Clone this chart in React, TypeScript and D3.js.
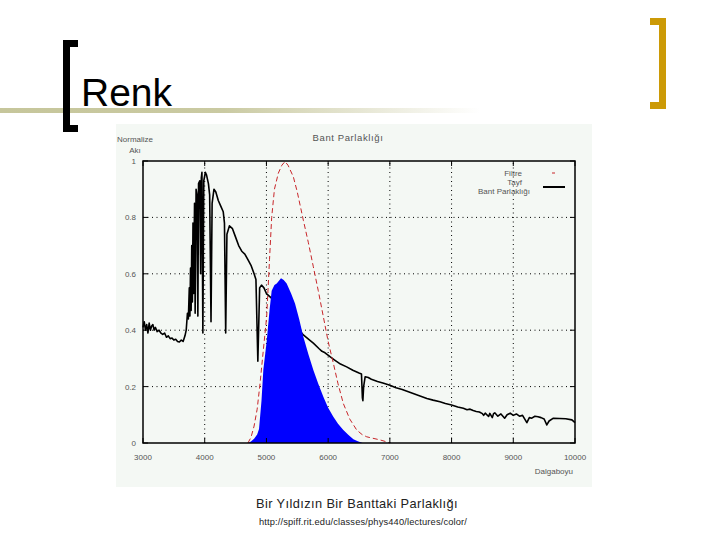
import React from "react";
import * as d3 from "d3";

// Wavelength (Å) and normalized flux for the spectrum (Tayf)
const spectrumWave = [
  3000, 3020, 3040, 3060, 3080, 3100, 3120, 3140, 3160, 3180, 3200, 3230, 3260, 3290, 3320, 3350, 3380, 3410, 3440, 3470,
  3500, 3530, 3560, 3590, 3620, 3650, 3680, 3700, 3720, 3735, 3750, 3760, 3770, 3780, 3790, 3800, 3810, 3820, 3835, 3845,
  3860, 3875, 3889, 3900, 3920, 3934, 3945, 3955, 3970, 3985, 4010, 4030, 4060, 4080, 4102, 4120, 4150, 4180, 4220, 4260,
  4300, 4320, 4340, 4360, 4400, 4450, 4500, 4550, 4600, 4650, 4700, 4750, 4800, 4830, 4861, 4890, 4920, 4960, 5000, 5050,
  5100, 5167, 5200, 5300, 5400, 5500, 5598, 5700, 5760, 5850, 5900, 5950, 6030, 6100, 6200, 6300, 6400, 6500, 6540, 6555,
  6563, 6575, 6600, 6650, 6700, 6800, 6900, 7000, 7100, 7200, 7300, 7400, 7500, 7600, 7700, 7812, 7900, 8000, 8100, 8191,
  8250, 8300, 8350, 8400, 8450, 8500, 8520, 8545, 8600, 8620, 8660, 8680, 8700, 8750, 8800, 8860, 8900, 8950, 9000, 9050,
  9100, 9150, 9220, 9260, 9300, 9350, 9400, 9450, 9500, 9543, 9580, 9650, 9750, 9850, 9950, 10000,
];
const spectrumFlux = [
  0.41, 0.43, 0.40, 0.42, 0.39, 0.425, 0.40, 0.415, 0.42, 0.40, 0.41, 0.395, 0.40, 0.39, 0.385, 0.39, 0.375, 0.38, 0.37, 0.372,
  0.365, 0.368, 0.36, 0.358, 0.365, 0.36, 0.38, 0.40, 0.46, 0.44, 0.55, 0.45, 0.62, 0.47, 0.70, 0.50, 0.78, 0.53, 0.85, 0.46,
  0.90, 0.88, 0.45, 0.92, 0.93, 0.60, 0.94, 0.96, 0.39, 0.93, 0.96, 0.95, 0.92, 0.88, 0.43, 0.85, 0.90, 0.89, 0.86, 0.84,
  0.82, 0.78, 0.39, 0.74, 0.77, 0.76, 0.73, 0.70, 0.68, 0.67, 0.65, 0.63, 0.60, 0.58, 0.29, 0.55, 0.56, 0.55, 0.53, 0.52,
  0.51, 0.505, 0.50, 0.47, 0.44, 0.41, 0.383, 0.365, 0.354, 0.335, 0.325, 0.32, 0.306, 0.295, 0.28, 0.27, 0.258, 0.248, 0.245, 0.16,
  0.15, 0.20, 0.235, 0.232, 0.226, 0.218, 0.212, 0.205, 0.196, 0.19, 0.182, 0.174, 0.166, 0.158, 0.152, 0.146, 0.14, 0.135, 0.128, 0.123,
  0.118, 0.12, 0.115, 0.112, 0.11, 0.104, 0.098, 0.106, 0.094, 0.105, 0.09, 0.104, 0.107, 0.095, 0.103, 0.088, 0.10, 0.106, 0.098, 0.103,
  0.095, 0.098, 0.072, 0.09, 0.088, 0.095, 0.093, 0.09, 0.085, 0.064, 0.078, 0.088, 0.087, 0.086, 0.082, 0.072,
];

// Filter (Filtre) transmission
const filterWave = [
  4700, 4750, 4800, 4850, 4896, 4950, 5004, 5050, 5085, 5130, 5193, 5250, 5301, 5350, 5436, 5500, 5598, 5680, 5760, 5840,
  5922, 6000, 6084, 6160, 6246, 6350, 6463, 6550, 6625, 6700, 6840, 6950, 7000,
];
const filterValue = [
  0, 0.02, 0.06, 0.12, 0.21, 0.33, 0.448, 0.65, 0.80, 0.90, 0.957, 0.985, 0.998, 0.985, 0.944, 0.89, 0.79, 0.71, 0.625, 0.54,
  0.448, 0.36, 0.283, 0.21, 0.14, 0.085, 0.046, 0.03, 0.022, 0.018, 0.011, 0.004, 0,
];

// Band brightness (Bant Parlaklığı)
const bandWave = [
  4700, 4750, 4800, 4850, 4880, 4920, 4950, 5004, 5050, 5085, 5130, 5167, 5236, 5280, 5328, 5400, 5463, 5530, 5598, 5680,
  5760, 5840, 5922, 6000, 6084, 6160, 6246, 6330, 6409, 6480, 6560,
];
const bandValue = [
  0, 0.005, 0.015, 0.03, 0.05, 0.15, 0.26, 0.36, 0.47, 0.54, 0.56, 0.566, 0.584, 0.578, 0.566, 0.53, 0.495, 0.44, 0.377, 0.315,
  0.259, 0.21, 0.164, 0.125, 0.093, 0.068, 0.046, 0.028, 0.013, 0.006, 0,
];

const xTicks = [3000, 4000, 5000, 6000, 7000, 8000, 9000, 10000];
const yTicks = [0, 0.2, 0.4, 0.6, 0.8, 1];
const yTickLabels = ["0", "0.2", "0.4", "0.6", "0.8", "1"];
const legendLabels = ["Filtre", "Tayf", "Bant Parlaklığı"];

export default function App() {
  const x = d3.scaleLinear().domain([3000, 10000]).range([143, 575]);
  const y = d3.scaleLinear().domain([0, 1]).range([443, 161]);

  const spec = spectrumWave.map((w, i) => [w, spectrumFlux[i]] as [number, number]);
  const filt = filterWave.map((w, i) => [w, filterValue[i]] as [number, number]);
  const band = bandWave.map((w, i) => [w, bandValue[i]] as [number, number]);

  const line = d3.line<[number, number]>().x((d) => x(d[0])).y((d) => y(d[1]));
  const area = d3
    .area<[number, number]>()
    .x((d) => x(d[0]))
    .y0(y(0))
    .y1((d) => y(d[1]));

  const chartFont = "'Liberation Sans', Arial, sans-serif";
  const tc = "#555";

  return (
    <svg width={720} height={540} style={{ position: "absolute", left: 0, top: 0, background: "#fff" }}>
      <defs>
        <linearGradient id="bar" x1="0" x2="1" y1="0" y2="0">
          <stop offset="0" stopColor="#c6c69b" />
          <stop offset="0.35" stopColor="#cacaa2" />
          <stop offset="0.75" stopColor="#ffffff" stopOpacity="1" />
          <stop offset="1" stopColor="#ffffff" />
        </linearGradient>
      </defs>

      {/* slide decoration */}
      <rect x={0} y={108} width={640} height={5} fill="url(#bar)" />
      <path d="M78,40 H63 V132 H78 V125 H70 V47 H78 Z" fill="#000" />
      <path d="M650,18 H666 V109 H650 V102 H659 V25 H650 Z" fill="#cc9a06" />
      <text x={81} y={106} fontFamily="'Liberation Sans', Arial, sans-serif" fontSize={39} fill="#000">
        Renk
      </text>

      {/* chart image background */}
      <rect x={116} y={124} width={476} height={363} fill="#f4f8f4" />

      {/* grid */}
      {xTicks.slice(1, -1).map((t) => (
        <line key={"gx" + t} x1={x(t)} x2={x(t)} y1={y(0)} y2={y(1)} stroke="#000" strokeWidth={1} strokeDasharray="1,3.5" />
      ))}
      {yTicks.slice(1, -1).map((t) => (
        <line key={"gy" + t} x1={x(3000)} x2={x(10000)} y1={y(t)} y2={y(t)} stroke="#000" strokeWidth={1} strokeDasharray="1,3.5" />
      ))}

      {/* spectrum */}
      <path d={line(spec) || ""} fill="none" stroke="#000" strokeWidth={1.6} strokeLinejoin="round" />
      {/* band brightness */}
      <path d={area(band) || ""} fill="#0000ff" stroke="none" />
      {/* filter */}
      <path d={line(filt) || ""} fill="none" stroke="#c8262a" strokeWidth={1} strokeDasharray="5,3" />

      {/* frame */}
      <rect x={x(3000)} y={y(1)} width={x(10000) - x(3000)} height={y(0) - y(1)} fill="none" stroke="#000" strokeWidth={1.5} />
      {xTicks.map((t) => (
        <g key={"tx" + t}>
          <line x1={x(t)} x2={x(t)} y1={y(0)} y2={y(0) - 5} stroke="#000" />
          <line x1={x(t)} x2={x(t)} y1={y(1)} y2={y(1) + 5} stroke="#000" />
          <text x={x(t)} y={460} textAnchor="middle" fontFamily={chartFont} fontSize={8} fill={tc}>
            {t}
          </text>
        </g>
      ))}
      {yTicks.map((t, i) => (
        <g key={"ty" + t}>
          <line x1={x(3000)} x2={x(3000) + 5} y1={y(t)} y2={y(t)} stroke="#000" />
          <line x1={x(10000)} x2={x(10000) - 5} y1={y(t)} y2={y(t)} stroke="#000" />
          <text x={136} y={y(t) + 3} textAnchor="end" fontFamily={chartFont} fontSize={8} fill={tc}>
            {yTickLabels[i]}
          </text>
        </g>
      ))}

      {/* titles */}
      <text x={348} y={141} textAnchor="middle" fontFamily={chartFont} fontSize={9.5} letterSpacing={0.6} fill={tc}>
        Bant Parlaklığı
      </text>
      <text x={135} y={142} textAnchor="middle" fontFamily={chartFont} fontSize={8} fill={tc}>
        Normalize
      </text>
      <text x={135} y={153} textAnchor="middle" fontFamily={chartFont} fontSize={8} fill={tc}>
        Akı
      </text>
      <text x={573} y={474} textAnchor="end" fontFamily={chartFont} fontSize={8} fill={tc}>
        Dalgaboyu
      </text>

      {/* legend */}
      {legendLabels.map((l, i) => (
        <text key={l} x={i === 2 ? 530 : 522} y={176 + i * 9} textAnchor="end" fontFamily={chartFont} fontSize={8} fill={tc}>
          {l}
        </text>
      ))}
      <line x1={552} x2={555} y1={173} y2={173} stroke="#c8262a" strokeWidth={1} />
      <line x1={543} x2={565} y1={187} y2={187} stroke="#000" strokeWidth={2} />

      {/* caption */}
      <text x={357} y={508} textAnchor="middle" fontFamily="'Liberation Sans', Arial, sans-serif" fontSize={12.8} letterSpacing={0.4} fill="#222">
        Bir Yıldızın Bir Banttaki Parlaklığı
      </text>
      <text x={363} y={525} textAnchor="middle" fontFamily="'Liberation Sans', Arial, sans-serif" fontSize={9.3} letterSpacing={0.15} fill="#222">
        http://spiff.rit.edu/classes/phys440/lectures/color/
      </text>
    </svg>
  );
}
